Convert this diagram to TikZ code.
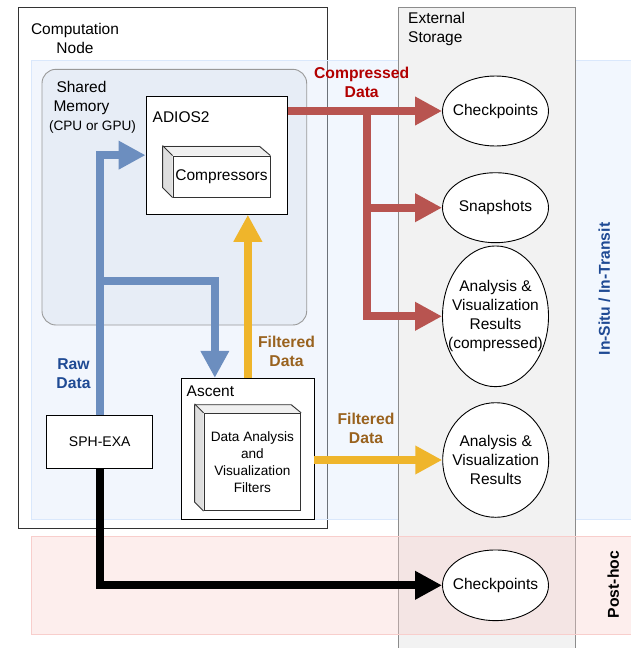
\documentclass[tikz,border=0pt]{standalone}
\usepackage{fontspec}
\setmainfont{Liberation Sans}
\usetikzlibrary{shapes, arrows.meta}

\definecolor{redline}{HTML}{B85450}
\definecolor{blueline}{HTML}{6C8EBF}
\definecolor{yellowline}{HTML}{EFB52B}
\definecolor{redtext}{HTML}{B20000}
\definecolor{bluetext}{HTML}{1F4A94}
\definecolor{browntext}{HTML}{99621E}
\definecolor{blueband}{HTML}{DAE8FC}
\definecolor{pinkband}{HTML}{F8CECC}
\definecolor{sharedfill}{HTML}{E7EDF6}

\begin{document}
\begin{tikzpicture}[x=1pt, y=-1pt, font=\fontsize{15.5}{19}\selectfont]
  \useasboundingbox (0,0) rectangle (631,648);

  \tikzset{container/.style={rectangle, draw, inner sep=0pt, line width=0.9pt}}
  \tikzset{band/.style={rectangle, inner sep=0pt, fill opacity=0.35, line width=0.9pt}}
  \tikzset{box/.style={rectangle, draw, fill=white, inner sep=0pt, line width=0.9pt, align=center}}
  \tikzset{face/.style={rectangle, draw=black!80, fill=white, inner sep=0pt, line width=0.9pt, align=center}}
  \tikzset{result/.style={ellipse, draw, fill=white, inner sep=-20pt, line width=0.9pt, align=center, minimum width=106pt}}
  \tikzset{tag/.style={inner sep=0pt, align=center}}
  \tikzset{flowlabel/.style={inner sep=0pt, align=center, font=\fontsize{15.7}{19}\selectfont\bfseries}}
  \tikzset{fat/.style={line width=8pt, -{Triangle[length=27pt, width=27pt]}}}

  % areas
  \node[container, draw=black!80, fill=white, minimum width=309pt, minimum height=521pt] (compnode) at (172.5,267.5) {};
  \node[band, fill=blueband, draw=blueband, minimum width=604.3pt, minimum height=458.6pt] (insitu) at (333.85,290) {};
  \node[container, draw=black!45, fill=black!5, minimum width=176.6pt, minimum height=653pt] (storage) at (487,333.5) {};
  \node[band, fill=pinkband, draw=pinkband, minimum width=604.3pt, minimum height=97.3pt] (posthoc) at (333.85,585.35) {};
  \node[container, draw=black!40, fill=sharedfill, rounded corners=14pt, minimum width=264.7pt, minimum height=255.7pt] (shmem) at (174.35,197.15) {};

  \node[tag] (compnodelabel) at (75,38.5) {Computation\\Node};
  \node[tag, anchor=west, align=left] (storagelabel) at (408,29) {External\\Storage};
  \node[tag] (shmemlabel) at (81.5,97.5) {Shared\\Memory};
  \node[tag, font=\fontsize{13.6}{17}\selectfont] (devicelabel) at (92.5,126.7) {(CPU or GPU)};

  % boxes
  \node[box, minimum width=141.3pt, minimum height=118.3pt] (adios) at (216.65,155.15) {};
  \node[tag, anchor=west] (adioslabel) at (152.5,117.3) {ADIOS2};
  \node[face, minimum width=97pt, minimum height=41pt] (comp) at (221.5,176.5) {Compressors};
  \fill[black!6] (comp.north west) -- ++(-10,-10) -- ([shift={(-10,-10)}]comp.north east) -- (comp.north east) -- cycle;
  \fill[black!13] (comp.north west) -- ++(-10,-10) -- ([shift={(-10,-10)}]comp.south west) -- (comp.south west) -- cycle;
  \draw[black!80, line width=0.9pt, line join=round] (comp.south west) -- ++(-10,-10) -- ++(0,-41) -- ++(97,0) -- (comp.north east);
  \draw[black!80, line width=0.9pt] ([shift={(-10,-10)}]comp.north west) -- (comp.north west);

  \node[box, minimum width=106pt, minimum height=52.6pt, font=\fontsize{14}{17}\selectfont] (sph) at (99.7,442) {SPH-EXA};

  \node[box, minimum width=132.3pt, minimum height=141pt] (ascent) at (247.85,448.8) {};
  \node[tag, anchor=west] (ascentlabel) at (186.5,391.7) {Ascent};
  \node[face, minimum width=96.7pt, minimum height=97.4pt, font=\fontsize{13.6}{17}\selectfont] (filters) at (252.35,462) {Data Analysis\\and\\Visualization\\Filters};
  \fill[black!6] (filters.north west) -- ++(-9,-9) -- ([shift={(-9,-9)}]filters.north east) -- (filters.north east) -- cycle;
  \fill[black!13] (filters.north west) -- ++(-9,-9) -- ([shift={(-9,-9)}]filters.south west) -- (filters.south west) -- cycle;
  \draw[black!80, line width=0.9pt, line join=round] (filters.south west) -- ++(-9,-9) -- ++(0,-97.4) -- ++(96.7,0) -- (filters.north east);
  \draw[black!80, line width=0.9pt] ([shift={(-9,-9)}]filters.north west) -- (filters.north west);

  % stored results
  \node[result, minimum height=70pt] (ck1) at (495.5,111) {Checkpoints};
  \node[result, minimum height=70pt] (snap) at (495.5,207.7) {Snapshots};
  \node[result, minimum height=140.7pt] (avc) at (495.5,316.3) {Analysis \&\\Visualization\\Results\\(compressed)};
  \node[result, minimum height=114.6pt] (avr) at (495.7,460) {Analysis \&\\Visualization\\Results};
  \node[result, minimum height=70.7pt] (ck2) at (495.5,585.3) {Checkpoints};

  % flows
  \coordinate (rsplit) at (366.7,111);
  \coordinate (bsplit) at (99.7,280.5);
  \draw[fat, redline] (adios.east |- ck1) -- (ck1.west);
  \draw[fat, redline] (rsplit) |- (snap.west);
  \draw[fat, redline] (rsplit) |- (avc.west);
  \draw[fat, blueline] (sph.north) |- (adios.west);
  \draw[fat, blueline] (bsplit) -| ([xshift=-33pt]ascent.north);
  \draw[fat, yellowline] (ascent.north) -- (ascent.north |- adios.south);
  \draw[fat, yellowline] (ascent.east |- avr.west) -- (avr.west);
  \draw[fat, black] (sph.south) |- (ck2.west);

  \node[flowlabel, text=redtext] (compressedlabel) at (361.7,82.2) {Compressed\\Data};
  \node[flowlabel, text=bluetext] (rawlabel) at (73.5,373.3) {Raw\\Data};
  \node[flowlabel, text=browntext] (filteredlabel) at (286.5,351.2) {Filtered\\Data};
  \node[flowlabel, text=browntext] (filteredlabel2) at (366,428.8) {Filtered\\Data};

  \node[flowlabel, text=bluetext, rotate=90] (insitulabel) at (604.3,289) {In-Situ / In-Transit};
  \node[flowlabel, rotate=90] (posthoclabel) at (613.3,584.5) {Post-hoc};
\end{tikzpicture}
\end{document}
